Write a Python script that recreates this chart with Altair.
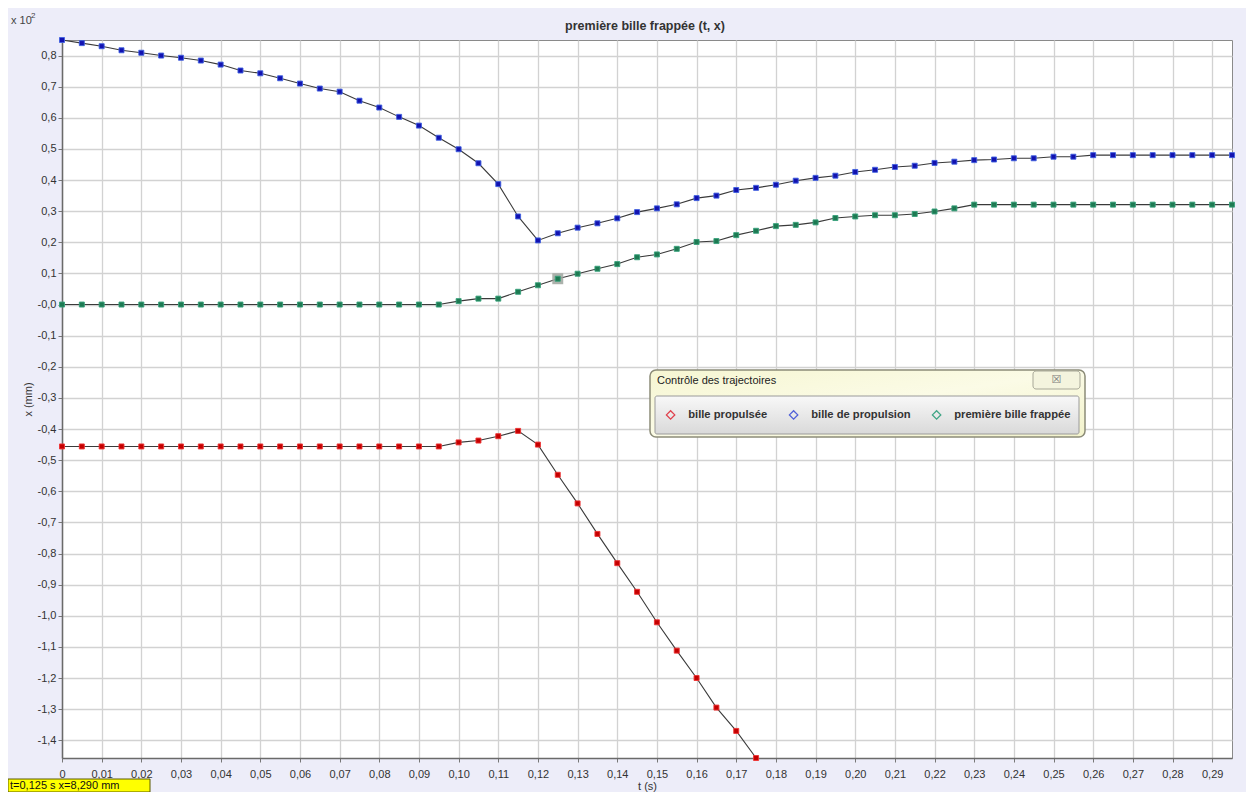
import altair as alt
import pandas as pd

# ---------------- data ----------------
t_values = [0.0, 0.005, 0.01, 0.015, 0.02, 0.025, 0.03, 0.035, 0.04, 0.045,
            0.05, 0.055, 0.06, 0.065, 0.07, 0.075, 0.08, 0.085, 0.09, 0.095,
            0.1, 0.105, 0.11, 0.115, 0.12, 0.125, 0.13, 0.135, 0.14, 0.145,
            0.15, 0.155, 0.16, 0.165, 0.17, 0.175, 0.18, 0.185, 0.19, 0.195,
            0.2, 0.205, 0.21, 0.215, 0.22, 0.225, 0.23, 0.235, 0.24, 0.245,
            0.25, 0.255, 0.26, 0.265, 0.27, 0.275, 0.28, 0.285, 0.29, 0.295]

# x (mm) of "bille propulsée" (red) - stops at t = 0.175 s
red_x = [-45.6, -45.6, -45.6, -45.6, -45.6, -45.6, -45.6, -45.6, -45.6, -45.6,
         -45.6, -45.6, -45.6, -45.6, -45.6, -45.6, -45.6, -45.6, -45.6, -45.6,
         -44.3, -43.7, -42.3, -40.6, -45.0, -54.7, -63.9, -73.7, -83.1, -92.3,
         -102.1, -111.2, -120.0, -129.5, -137.0, -145.7]

# x (mm) of "bille de propulsion" (blue)
blue_x = [85.0, 84.0, 83.0, 81.7, 80.9, 80.0, 79.3, 78.4, 77.1, 75.2,
          74.3, 72.7, 71.0, 69.4, 68.4, 65.5, 63.3, 60.3, 57.5, 53.6,
          49.9, 45.4, 38.7, 28.3, 20.6, 22.9, 24.7, 26.1, 27.7, 29.7,
          30.9, 32.2, 34.2, 35.0, 36.8, 37.5, 38.5, 39.8, 40.7, 41.4,
          42.6, 43.3, 44.2, 44.6, 45.5, 45.9, 46.4, 46.6, 47.0, 47.0,
          47.5, 47.5, 48.0, 48.0, 48.0, 48.0, 48.0, 48.0, 48.0, 48.0]

# x (mm) of "première bille frappée" (green)
green_x = [0.0, 0.0, 0.0, 0.0, 0.0, 0.0, 0.0, 0.0, 0.0, 0.0,
           0.0, 0.0, 0.0, 0.0, 0.0, 0.0, 0.0, 0.0, 0.0, 0.0,
           1.1, 1.9, 1.9, 4.1, 6.2, 8.29, 9.9, 11.5, 13.0, 15.2,
           16.1, 17.9, 20.1, 20.4, 22.3, 23.7, 25.2, 25.6, 26.4, 27.8,
           28.3, 28.7, 28.7, 29.1, 29.9, 30.9, 32.1, 32.1, 32.1, 32.1,
           32.1, 32.1, 32.1, 32.1, 32.1, 32.1, 32.1, 32.1, 32.1, 32.1]

series_names = ["bille propulsée", "bille de propulsion", "première bille frappée"]
point_fill = ["#c40000", "#1212b0", "#1d7a52"]
point_stroke = ["#ee3333", "#4060e0", "#38a27c"]
legend_colors = ["#e0404c", "#5060d8", "#3fa585"]

x_ticks = [0.0, 0.01, 0.02, 0.03, 0.04, 0.05, 0.06, 0.07, 0.08, 0.09,
           0.1, 0.11, 0.12, 0.13, 0.14, 0.15, 0.16, 0.17, 0.18, 0.19,
           0.2, 0.21, 0.22, 0.23, 0.24, 0.25, 0.26, 0.27, 0.28, 0.29]
y_ticks = [80, 70, 60, 50, 40, 30, 20, 10, 0, -10, -20, -30, -40, -50, -60,
           -70, -80, -90, -100, -110, -120, -130, -140]

chart_title = "première bille frappée (t, x)"
selected_t = 0.125
selected_series = "première bille frappée"
status_text = "t=0,125 s  x=8,290 mm"

# ---------------- table ----------------
rows = []
for name, vals in zip(series_names, [red_x, blue_x, green_x]):
    for t, v in zip(t_values, vals):
        rows.append({"t": t, "x": v, "serie": name})
df = pd.DataFrame(rows)

y_min = min(red_x)
y_max = max(blue_x)

FONT = "Liberation Sans"
W, H = 1170, 718

x_enc = alt.X(
    "t:Q",
    scale=alt.Scale(domain=[0, 0.295], nice=False, zero=False),
    axis=alt.Axis(
        values=x_ticks,
        labelExpr="datum.value == 0 ? '0' : replace(format(datum.value, '.2f'), '.', ',')",
        title="t (s)", grid=True, gridColor="#d2d2d2", gridWidth=1.3,
        domainColor="#6a6a6a", domainWidth=1.5, tickColor="#777", tickSize=4,
        labelFont=FONT, labelFontSize=11, labelColor="#333", labelPadding=6,
        titleFont=FONT, titleFontSize=11, titleFontWeight="normal", titleColor="#333",
        titlePadding=1, labelOverlap=False, labelFlush=False,
    ),
)
y_enc = alt.Y(
    "x:Q",
    scale=alt.Scale(domain=[y_min, y_max], nice=False, zero=False),
    axis=alt.Axis(
        values=y_ticks,
        labelExpr="datum.value == 0 ? '-0,0' : (datum.value < 0 ? '-' : '') + replace(format(abs(datum.value) / 100, '.1f'), '.', ',')",
        title="x (mm)", grid=True, gridColor="#d2d2d2", gridWidth=1.3,
        domainColor="#6a6a6a", domainWidth=1.5, tickColor="#777", tickSize=4,
        labelFont=FONT, labelFontSize=11, labelColor="#333", labelPadding=2,
        titleFont=FONT, titleFontSize=11, titleFontWeight="normal", titleColor="#333",
        titlePadding=4, labelOverlap=False, labelFlush=False,
    ),
)

base = alt.Chart(df)

lines = base.mark_line(color="#3a3a3a", strokeWidth=1.1).encode(
    x=x_enc, y=y_enc, detail="serie:N", order="t:Q"
)

highlight = base.transform_filter(
    (alt.datum.serie == selected_series) & (alt.datum.t == selected_t)
).mark_square(size=120, color="#9ea49e", opacity=0.85).encode(x=x_enc, y=y_enc)

points = base.mark_square(size=25, strokeWidth=0.9, opacity=1).encode(
    x=x_enc, y=y_enc,
    fill=alt.Fill("serie:N", sort=series_names, scale=alt.Scale(range=point_fill), legend=None),
    stroke=alt.Stroke("serie:N", sort=series_names, scale=alt.Scale(range=point_stroke), legend=None),
)

# ---- decorative legend panel ("Contrôle des trajectoires") ----
one = pd.DataFrame({"k": [0]})
deco = alt.Chart(one)
outer_box = deco.mark_rect(
    cornerRadius=6, stroke="#8c8c78", strokeWidth=1.5,
    fill={"x1": 0, "y1": 0, "x2": 1, "y2": 1, "gradient": "linear",
          "stops": [{"offset": 0, "color": "#f6f6d2"},
                    {"offset": 0.5, "color": "#fbfbe6"},
                    {"offset": 1, "color": "#f3f3cc"}]},
).encode(x=alt.value(588), x2=alt.value(1023), y=alt.value(330), y2=alt.value(397))
close_box = deco.mark_rect(
    cornerRadius=3, stroke="#a8a898", strokeWidth=1, fill="#f4f4de"
).encode(x=alt.value(971), x2=alt.value(1018), y=alt.value(331), y2=alt.value(349))
close_txt = deco.mark_text(
    text="☒", font="DejaVu Sans", fontSize=11, color="#7a7a7a", align="center", baseline="middle"
).encode(x=alt.value(994.5), y=alt.value(340))
inner_box = deco.mark_rect(
    cornerRadius=2, stroke="#9a9a9a", strokeWidth=1,
    fill={"x1": 0, "y1": 0, "x2": 0, "y2": 1, "gradient": "linear",
          "stops": [{"offset": 0, "color": "#f8f8f8"}, {"offset": 1, "color": "#d9d9d9"}]},
).encode(x=alt.value(593), x2=alt.value(1017), y=alt.value(356), y2=alt.value(394))

legend_layer = base.mark_point(shape="diamond", filled=False, opacity=0).encode(
    x=x_enc, y=y_enc,
    color=alt.Color(
        "serie:N",
        scale=alt.Scale(domain=series_names, range=legend_colors),
        legend=alt.Legend(
            title="Contrôle des trajectoires", orient="none", legendX=595, legendY=335,
            direction="horizontal", padding=0,
            titleFont=FONT, titleFontSize=11, titleFontWeight="normal", titleColor="#222",
            titlePadding=23,
            labelFont=FONT, labelFontSize=11.2, labelFontWeight="bold", labelColor="#333",
            symbolType="diamond", symbolSize=70, symbolStrokeWidth=1.3, symbolOpacity=1,
            symbolOffset=8, labelOffset=12, columnPadding=12, zindex=5,
        ),
    ),
)

# ---- other texts ----
title_txt = deco.mark_text(text=chart_title, font=FONT, fontSize=12.5, fontWeight="bold",
                           color="#333", align="center", baseline="middle").encode(
    x=alt.value(W / 2 - 2), y=alt.value(-14))
exp_txt = deco.mark_text(text="x 10", font=FONT, fontSize=11, color="#444",
                         align="left", baseline="middle").encode(x=alt.value(-51), y=alt.value(-19))
exp2_txt = deco.mark_text(text="2", font=FONT, fontSize=8, color="#444",
                          align="left", baseline="middle").encode(x=alt.value(-31), y=alt.value(-24))
status_box = deco.mark_rect(fill="#ffff00", stroke="#5a5a00", strokeWidth=1).encode(
    x=alt.value(-54), x2=alt.value(88), y=alt.value(739), y2=alt.value(752))
status_txt = deco.mark_text(text=status_text, font=FONT, fontSize=11, color="#111",
                            align="left", baseline="middle").encode(x=alt.value(-52), y=alt.value(745.5))

chart = alt.layer(
    lines, highlight, points,
    outer_box, close_box, close_txt, inner_box, legend_layer,
    title_txt, exp_txt, exp2_txt, status_box, status_txt,
).properties(
    width=W, height=H,
    autosize=alt.AutoSizeParams(type="none"),
    padding={"left": 54, "top": 32, "right": 14, "bottom": 34},
).configure(background="#ededf9").configure_view(fill="white", stroke="#8a8a8a", strokeWidth=1)

chart.save("out.html", embed_options={"renderer": "svg", "actions": False})
